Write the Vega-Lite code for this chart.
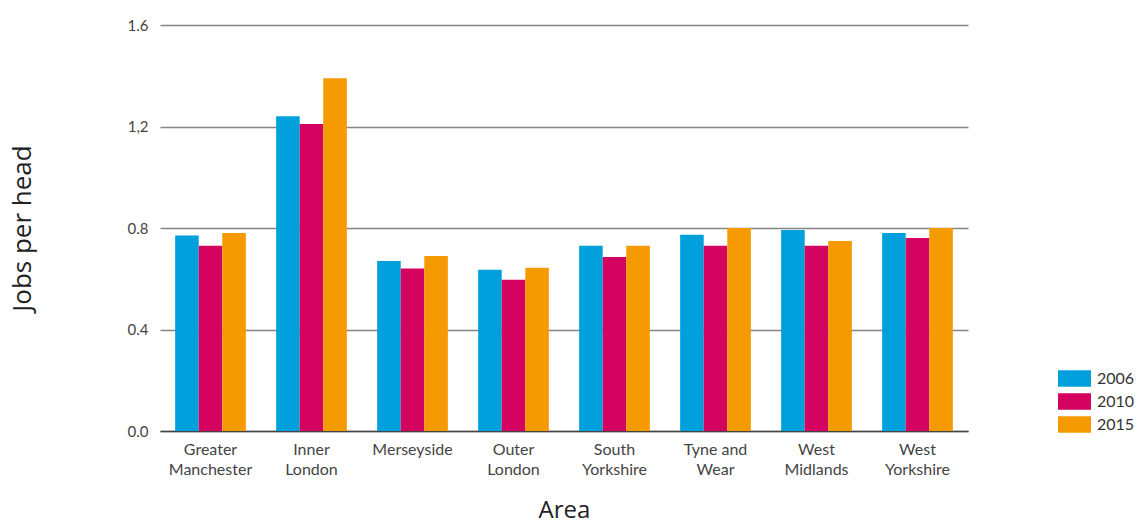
{
  "$schema": "https://vega.github.io/schema/vega-lite/v6.json",
  "width": 808,
  "height": 406,
  "autosize": {"type": "none"},
  "padding": {"left": 160, "top": 25, "right": 170, "bottom": 94},
  "background": "white",
  "config": {
    "view": {"stroke": null},
    "font": "Lato"
  },
  "data": {
    "values": [
      {"area": "Greater Manchester", "year": "2006", "jobs": 0.77},
      {"area": "Greater Manchester", "year": "2010", "jobs": 0.73},
      {"area": "Greater Manchester", "year": "2015", "jobs": 0.78},
      {"area": "Inner London", "year": "2006", "jobs": 1.24},
      {"area": "Inner London", "year": "2010", "jobs": 1.21},
      {"area": "Inner London", "year": "2015", "jobs": 1.39},
      {"area": "Merseyside", "year": "2006", "jobs": 0.67},
      {"area": "Merseyside", "year": "2010", "jobs": 0.64},
      {"area": "Merseyside", "year": "2015", "jobs": 0.69},
      {"area": "Outer London", "year": "2006", "jobs": 0.635},
      {"area": "Outer London", "year": "2010", "jobs": 0.596},
      {"area": "Outer London", "year": "2015", "jobs": 0.643},
      {"area": "South Yorkshire", "year": "2006", "jobs": 0.73},
      {"area": "South Yorkshire", "year": "2010", "jobs": 0.686},
      {"area": "South Yorkshire", "year": "2015", "jobs": 0.73},
      {"area": "Tyne and Wear", "year": "2006", "jobs": 0.773},
      {"area": "Tyne and Wear", "year": "2010", "jobs": 0.73},
      {"area": "Tyne and Wear", "year": "2015", "jobs": 0.80},
      {"area": "West Midlands", "year": "2006", "jobs": 0.792},
      {"area": "West Midlands", "year": "2010", "jobs": 0.73},
      {"area": "West Midlands", "year": "2015", "jobs": 0.749},
      {"area": "West Yorkshire", "year": "2006", "jobs": 0.78},
      {"area": "West Yorkshire", "year": "2010", "jobs": 0.761},
      {"area": "West Yorkshire", "year": "2015", "jobs": 0.80}
    ]
  },
  "mark": {"type": "bar"},
  "encoding": {
    "x": {
      "field": "area",
      "type": "nominal",
      "sort": null,
      "scale": {"paddingInner": 0.3, "paddingOuter": 0.15},
      "axis": {
        "title": "Area",
        "titleFont": "Open Sans",
        "titleFontSize": 24,
        "titleFontWeight": "normal",
        "titleColor": "#222222",
        "titlePadding": 21,
        "labelAngle": 0,
        "labelFont": "Lato",
        "labelFontSize": 16,
        "labelColor": "#444444",
        "labelPadding": 10,
        "labelLineHeight": 20,
        "labelExpr": "datum.label == 'Tyne and Wear' ? ['Tyne and', 'Wear'] : split(datum.label, ' ')",
        "ticks": false,
        "domainColor": "#444444",
        "domainWidth": 1.5,
        "grid": false
      }
    },
    "xOffset": {"field": "year", "type": "nominal"},
    "y": {
      "field": "jobs",
      "type": "quantitative",
      "scale": {"domain": [0, 1.6], "nice": false},
      "axis": {
        "title": "Jobs per head",
        "titleFont": "Open Sans",
        "titleFontSize": 26,
        "titleFontWeight": "normal",
        "titleColor": "#222222",
        "titlePadding": 92,
        "values": [0, 0.4, 0.8, 1.2, 1.6],
        "labelExpr": "datum.value == 1.2 ? '1,2' : format(datum.value, '.1f')",
        "labelFont": "Lato",
        "labelFontSize": 15,
        "labelColor": "#444444",
        "labelPadding": 12,
        "ticks": false,
        "domain": false,
        "grid": true,
        "gridColor": "#858585",
        "gridWidth": 1.5
      }
    },
    "color": {
      "field": "year",
      "type": "nominal",
      "scale": {"range": ["#00A0DC", "#D4035F", "#F59A00"]},
      "legend": {
        "title": null,
        "orient": "none",
        "legendX": 906,
        "legendY": 345,
        "symbolType": "M-2,-1H2V1H-2Z",
        "symbolSize": 272,
        "symbolStrokeWidth": 0,
        "symbolOpacity": 1,
        "labelFont": "Lato",
        "labelFontSize": 16,
        "labelColor": "#333333",
        "labelOffset": 14,
        "rowPadding": 6
      }
    }
  }
}
